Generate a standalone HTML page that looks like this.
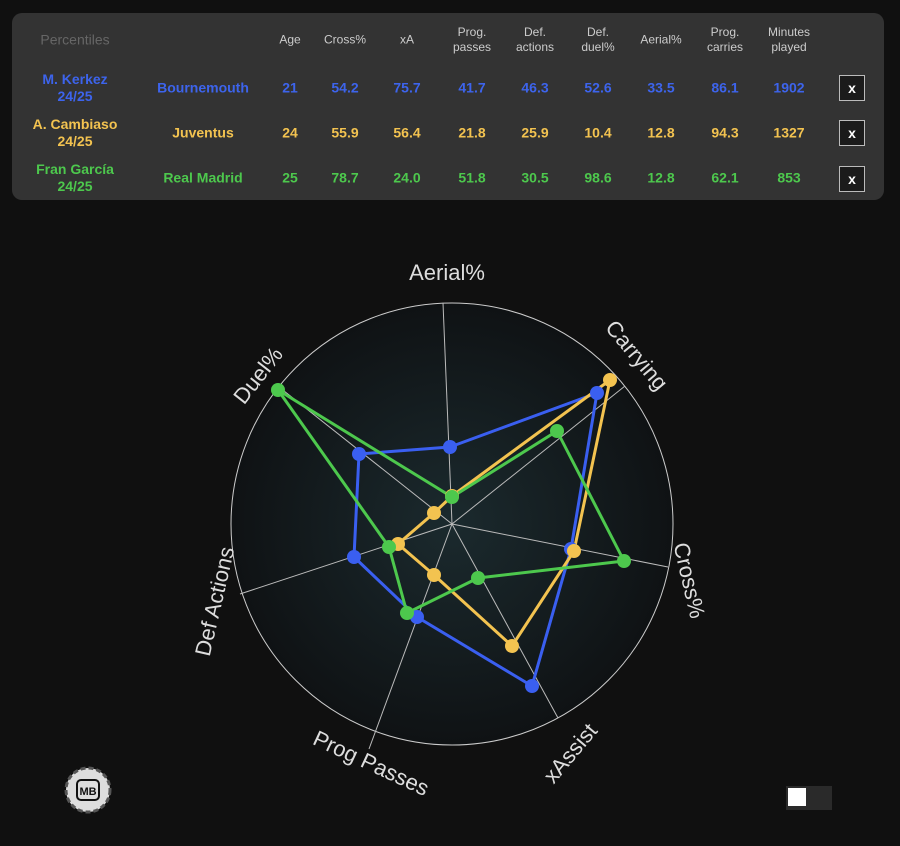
<!DOCTYPE html>
<html><head><style>
body{margin:0;width:900px;height:846px;background:#101010;font-family:"Liberation Sans",sans-serif;overflow:hidden;position:relative}
.box{position:absolute;left:12px;top:13px;width:872px;height:187px;background:#333;border-radius:10px}
.t{position:absolute;transform:translate(-50%,-50%);text-align:center;font-weight:bold;font-size:14px;line-height:17px;white-space:nowrap}
.h{color:#ccc;font-weight:normal;font-size:12px;line-height:15px}
.b{color:#3d64ec}.y{color:#f3c350}.g{color:#4dc84d}
.x{position:absolute;width:24px;height:24px;background:#1b1b1b;border:1px solid #bbb;color:#fff;font-weight:bold;font-size:14px;text-align:center;line-height:24px;transform:translate(-50%,-50%)}
</style></head><body>
<div class="box"></div>
<div class="t" style="left:75px;top:40px;color:#666;font-weight:normal;font-size:14px">Percentiles</div>
<div class="t h" style="left:290px;top:40px">Age</div>
<div class="t h" style="left:345px;top:40px">Cross%</div>
<div class="t h" style="left:407px;top:40px">xA</div>
<div class="t h" style="left:472px;top:40px">Prog.<br>passes</div>
<div class="t h" style="left:535px;top:40px">Def.<br>actions</div>
<div class="t h" style="left:598px;top:40px">Def.<br>duel%</div>
<div class="t h" style="left:661px;top:40px">Aerial%</div>
<div class="t h" style="left:725px;top:40px">Prog.<br>carries</div>
<div class="t h" style="left:789px;top:40px">Minutes<br>played</div>

<div class="t b" style="left:75px;top:88px">M. Kerkez<br>24/25</div>
<div class="t b" style="left:203px;top:88px">Bournemouth</div>
<div class="t b" style="left:290px;top:88px">21</div><div class="t b" style="left:345px;top:88px">54.2</div><div class="t b" style="left:407px;top:88px">75.7</div><div class="t b" style="left:472px;top:88px">41.7</div><div class="t b" style="left:535px;top:88px">46.3</div><div class="t b" style="left:598px;top:88px">52.6</div><div class="t b" style="left:661px;top:88px">33.5</div><div class="t b" style="left:725px;top:88px">86.1</div><div class="t b" style="left:789px;top:88px">1902</div>
<div class="x" style="left:852px;top:88px">x</div>

<div class="t y" style="left:75px;top:133px">A. Cambiaso<br>24/25</div>
<div class="t y" style="left:203px;top:133px">Juventus</div>
<div class="t y" style="left:290px;top:133px">24</div><div class="t y" style="left:345px;top:133px">55.9</div><div class="t y" style="left:407px;top:133px">56.4</div><div class="t y" style="left:472px;top:133px">21.8</div><div class="t y" style="left:535px;top:133px">25.9</div><div class="t y" style="left:598px;top:133px">10.4</div><div class="t y" style="left:661px;top:133px">12.8</div><div class="t y" style="left:725px;top:133px">94.3</div><div class="t y" style="left:789px;top:133px">1327</div>
<div class="x" style="left:852px;top:133px">x</div>

<div class="t g" style="left:75px;top:178px">Fran García<br>24/25</div>
<div class="t g" style="left:203px;top:178px">Real Madrid</div>
<div class="t g" style="left:290px;top:178px">25</div><div class="t g" style="left:345px;top:178px">78.7</div><div class="t g" style="left:407px;top:178px">24.0</div><div class="t g" style="left:472px;top:178px">51.8</div><div class="t g" style="left:535px;top:178px">30.5</div><div class="t g" style="left:598px;top:178px">98.6</div><div class="t g" style="left:661px;top:178px">12.8</div><div class="t g" style="left:725px;top:178px">62.1</div><div class="t g" style="left:789px;top:178px">853</div>
<div class="x" style="left:852px;top:179px">x</div>

<svg width="900" height="846" style="position:absolute;left:0;top:0">
<defs><radialGradient id="rg" cx="452" cy="524" r="221" gradientUnits="userSpaceOnUse">
<stop offset="0" stop-color="#1b2a2e"/><stop offset="1" stop-color="#0f1214"/></radialGradient></defs>
<circle cx="452" cy="524" r="221" fill="url(#rg)" stroke="#ccc" stroke-width="1"/>
<g stroke="#bbb" stroke-width="1">
<line x1="452" y1="524" x2="443" y2="303"/>
<line x1="452" y1="524" x2="625" y2="386"/>
<line x1="452" y1="524" x2="668" y2="567"/>
<line x1="452" y1="524" x2="558" y2="718"/>
<line x1="452" y1="524" x2="369" y2="749"/>
<line x1="452" y1="524" x2="240" y2="594"/>
<line x1="452" y1="524" x2="279" y2="387"/>
</g>
<g fill="#ddd" font-size="22" font-family="Liberation Sans,sans-serif" text-anchor="middle">
<text x="447" y="280">Aerial%</text>
<text transform="translate(631,360) rotate(50)">Carrying</text>
<text transform="translate(682,582) rotate(77)">Cross%</text>
<text transform="translate(576,758) rotate(-50)">xAssist</text>
<text transform="translate(368,770) rotate(25)">Prog Passes</text>
<text transform="translate(222,603) rotate(-77)">Def Actions</text>
<text transform="translate(264,380) rotate(-52)">Duel%</text>
</g>
<g fill="none" stroke-width="3" stroke-linejoin="round">
<polygon stroke="#3a5ff0" points="450,447 597,393 571,549 532,686 417,617 354,557 359,454"/>
<polygon stroke="#f3c350" points="452,496 610,380 574,551 512,646 434,575 398,544 434,513"/>
<polygon stroke="#4dc84d" points="452,497 557,431 624,561 478,578 407,613 389,547 278,390"/>
</g>
<g fill="#3a5ff0"><circle cx="450" cy="447" r="7"/><circle cx="597" cy="393" r="7"/><circle cx="571" cy="549" r="7"/><circle cx="532" cy="686" r="7"/><circle cx="417" cy="617" r="7"/><circle cx="354" cy="557" r="7"/><circle cx="359" cy="454" r="7"/></g>
<g fill="#f3c350"><circle cx="452" cy="496" r="7"/><circle cx="610" cy="380" r="7"/><circle cx="574" cy="551" r="7"/><circle cx="512" cy="646" r="7"/><circle cx="434" cy="575" r="7"/><circle cx="398" cy="544" r="7"/><circle cx="434" cy="513" r="7"/></g>
<g fill="#4dc84d"><circle cx="452" cy="497" r="7"/><circle cx="557" cy="431" r="7"/><circle cx="624" cy="561" r="7"/><circle cx="478" cy="578" r="7"/><circle cx="407" cy="613" r="7"/><circle cx="389" cy="547" r="7"/><circle cx="278" cy="390" r="7"/></g>
<circle cx="88" cy="790" r="22" fill="#ddd" stroke="#555" stroke-width="3" stroke-dasharray="5 3"/>
<rect x="77" y="780" width="22" height="20" rx="4" fill="#ddd" stroke="#111" stroke-width="2"/>
<text x="88" y="795" font-size="11" font-weight="bold" text-anchor="middle" fill="#111" font-family="Liberation Sans,sans-serif">MB</text>
<rect x="786" y="786" width="46" height="24" fill="#2a2a2a"/>
<rect x="788" y="788" width="18" height="18" fill="#fff"/>
</svg>
</body></html>
